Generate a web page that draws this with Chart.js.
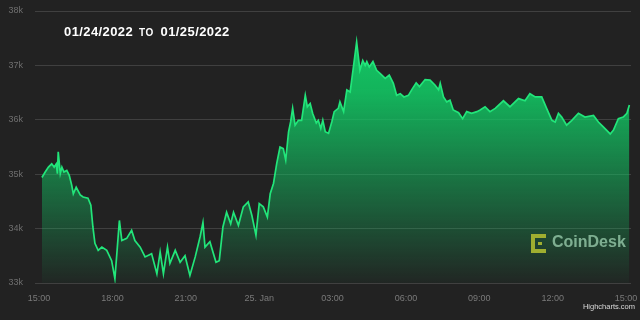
<!DOCTYPE html>
<html>
<head>
<meta charset="utf-8">
<script src="https://cdn.jsdelivr.net/npm/chart.js@4/dist/chart.umd.min.js"></script>
<style>
  html, body { margin: 0; padding: 0; background: #222222; }
  #wrap { position: relative; width: 640px; height: 320px; overflow: hidden; font-family: "Liberation Sans", Arial, sans-serif; }
  #canvas { position: absolute; left: 0; top: 0; }
  #title { position: absolute; left: 64px; top: 24px; color: #ffffff; font-weight: bold; font-size: 13px; letter-spacing: 0.4px; white-space: nowrap; }
  #title .to { font-size: 10px; margin: 0 7px 0 6px; }
  #logo { position: absolute; left: 531px; top: 232px; height: 22px; }
  #logo .icon { position: absolute; left: 0; top: 2px; width: 17px; height: 19px; }
  #logo .icon span { position: absolute; background: #9fae30; }
  #logo .name { position: absolute; left: 21px; top: 1px; color: rgba(190, 245, 210, 0.6); font-weight: bold; font-size: 16px; white-space: nowrap; }
  #credit { position: absolute; right: 5px; top: 302px; color: #dadada; font-size: 7.5px; white-space: nowrap; }
</style>
</head>
<body>
<div id="wrap">
  <canvas id="canvas" width="640" height="320"></canvas>
  <div id="title">01/24/2022<span class="to">TO</span>01/25/2022</div>
  <div id="logo">
    <div class="icon">
      <span style="left:0;top:0;width:4px;height:19px"></span>
      <span style="left:0;top:0;width:15px;height:4px"></span>
      <span style="left:0;top:15px;width:15px;height:4px"></span>
      <span style="left:7px;top:8px;width:4px;height:3px"></span>
    </div>
    <div class="name">CoinDesk</div>
  </div>
  <div id="credit">Highcharts.com</div>
</div>
<script>
// minutes after 01/24 15:00
const minutes = [7, 15, 23, 31, 37, 42, 45, 47, 52, 56, 61, 68, 74, 80, 84, 91, 101, 108, 120, 127,
  132, 137, 145, 154, 166, 178, 186, 192, 197, 203, 215, 227, 235, 248, 260, 276, 289, 297, 305, 315,
  321, 334, 346, 358, 370, 383, 395, 402, 407, 419, 434, 442, 451, 460, 470, 477, 489, 501, 513, 522,
  532, 540, 550, 560, 567, 575, 583, 591, 599, 605, 612, 617, 622, 628, 636, 644, 653, 658, 665, 671,
  680, 685, 691, 696, 702, 710, 718, 724, 734, 738, 747, 755, 763, 770, 779, 787, 794, 800, 804, 810,
  819, 828, 837, 849, 859, 869, 877, 886, 895, 906, 914, 925, 933, 947, 959, 971, 980, 984, 992, 1000,
  1008, 1016, 1029, 1039, 1049, 1061, 1074, 1082, 1094, 1106, 1119, 1139, 1155, 1176, 1192, 1204, 1217, 1233, 1245, 1258,
  1266, 1274, 1282, 1294, 1307, 1323, 1339, 1360, 1372, 1384, 1401, 1409, 1421, 1433, 1442, 1448];

const prices = [34940, 35040, 35130, 35190, 35130, 35190, 35010, 35410, 35010, 35130, 35040, 35070, 34980, 34800, 34640, 34760, 34620, 34580, 34560, 34430,
  34030, 33730, 33600, 33660, 33600, 33410, 33080, 33660, 34150, 33780, 33820, 33970, 33780, 33660, 33480, 33540, 33170, 33570, 33170, 33660,
  33360, 33600, 33380, 33500, 33140, 33480, 33850, 34110, 33660, 33760, 33380, 33410, 34030, 34300, 34090, 34300, 34060, 34400, 34490, 34240,
  33880, 34460, 34400, 34210, 34640, 34830, 35200, 35500, 35470, 35260, 35780, 35960, 36210, 35900, 35990, 35990, 36450, 36240, 36300, 36120,
  35940, 35990, 35840, 35990, 35780, 35750, 35960, 36150, 36210, 36330, 36150, 36550, 36510, 36910, 37430, 36910, 37090, 37000, 37070, 36970,
  37070, 36910, 36850, 36760, 36820, 36670, 36450, 36480, 36420, 36450, 36550, 36680, 36610, 36740, 36730, 36640, 36550, 36670, 36420, 36330,
  36360, 36180, 36130, 36020, 36150, 36120, 36150, 36180, 36240, 36150, 36210, 36350, 36240, 36390, 36350, 36480, 36420, 36420, 36210, 35990,
  35960, 36120, 36050, 35900, 35990, 36120, 36050, 36080, 35960, 35870, 35740, 35810, 36020, 36050, 36120, 36270];

const tickMinutes = [0, 180, 360, 540, 720, 900, 1080, 1260, 1440];
const tickLabels = ['15:00', '18:00', '21:00', '25. Jan', '03:00', '06:00', '09:00', '12:00', '15:00'];
const yTicks = [33000, 34000, 35000, 36000, 37000, 38000];

const ctx = document.getElementById('canvas');

function areaFill(context) {
  const chart = context.chart;
  const area = chart.chartArea;
  if (!area) return 'rgba(20,200,100,0.5)';
  const g = chart.ctx.createLinearGradient(0, area.top, 0, area.bottom);
  g.addColorStop(0, 'rgba(18,210,105,1)');
  g.addColorStop(0.3, 'rgba(18,200,100,0.88)');
  g.addColorStop(1, 'rgba(18,195,100,0.03)');
  return g;
}

const myChart = new Chart(ctx, {
  type: 'line',
  data: {
    datasets: [{
      data: minutes.map((m, i) => ({ x: m, y: prices[i] })),
      borderColor: '#22e57a',
      borderWidth: 1.7,
      backgroundColor: areaFill,
      fill: 'start',
      pointRadius: 0,
      tension: 0
    }]
  },
  options: {
    responsive: false,
    animation: false,
    devicePixelRatio: 1,
    layout: { padding: { top: 11, right: 9, left: 0, bottom: 0 } },
    plugins: { legend: { display: false }, tooltip: { enabled: false } },
    scales: {
      x: {
        type: 'linear',
        min: -10,
        max: 1452,
        grid: { display: false },
        border: { display: false },
        afterBuildTicks: (scale) => { scale.ticks = tickMinutes.map(v => ({ value: v })); },
        afterFit: (scale) => {
          scale.height = 37;
          scale.paddingLeft = 0;
          scale.paddingRight = 0;
        },
        ticks: {
          autoSkip: false,
          maxRotation: 0,
          padding: 2,
          color: '#7a7a7a',
          font: { family: '"Liberation Sans", Arial, sans-serif', size: 9 },
          callback: (v) => tickLabels[tickMinutes.indexOf(v)]
        }
      },
      y: {
        min: 33000,
        max: 38000,
        afterBuildTicks: (scale) => { scale.ticks = yTicks.map(v => ({ value: v })); },
        afterFit: (scale) => {
          scale.width = 35;
          scale.paddingTop = 0;
          scale.paddingBottom = 0;
        },
        grid: { color: '#404040', lineWidth: 1, drawTicks: false },
        border: { display: false },
        ticks: {
          padding: 12,
          color: '#6f6f6f',
          font: { family: '"Liberation Sans", Arial, sans-serif', size: 9 },
          callback: (v) => (v / 1000) + 'k'
        }
      }
    }
  }
});
</script>
</body>
</html>
